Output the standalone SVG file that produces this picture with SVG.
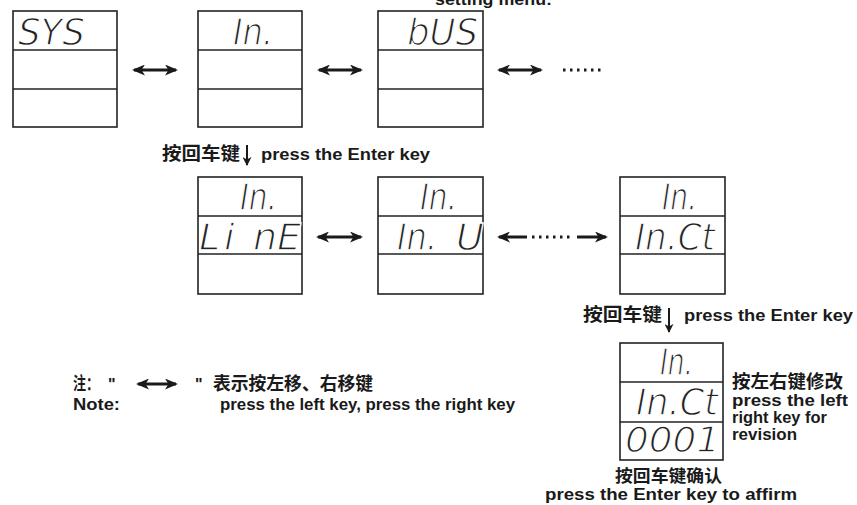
<svg xmlns="http://www.w3.org/2000/svg" width="857" height="505" viewBox="0 0 857 505">
<style>
.box{fill:#fff;stroke:#222;stroke-width:1.6}
.div{stroke:#222;stroke-width:1.4}
.seg{font-family:"DejaVu Sans","Liberation Sans",sans-serif;font-style:italic;font-size:38px;fill:#222;stroke:#fff;stroke-width:1.3px}
.lbl{font-family:"Liberation Sans","Noto Sans CJK SC",sans-serif;font-weight:bold;font-size:16px;fill:#1a1a1a}
.cjk{font-family:"Noto Sans CJK SC",sans-serif;font-weight:bold;font-size:18px;fill:#1a1a1a}
.arr{stroke:#1a1a1a;stroke-width:3;fill:none}
.thin{stroke:#1a1a1a;stroke-width:2;fill:none}
.dots{stroke:#1a1a1a;stroke-width:3;stroke-dasharray:2.5 4.5;fill:none}
</style>
<defs>
<marker id="ah" viewBox="0 0 13 11" refX="11" refY="5.5" markerWidth="13" markerHeight="11" markerUnits="userSpaceOnUse" orient="auto-start-reverse">
<path d="M0,0 L13,5.5 L0,11 L3.5,5.5 Z" fill="#1a1a1a"/>
</marker>
<marker id="dh" viewBox="0 0 10 10" refX="9" refY="5" markerWidth="9" markerHeight="9" markerUnits="userSpaceOnUse" orient="auto">
<path d="M0,0 L10,5 L0,10 L3,5 Z" fill="#1a1a1a"/>
</marker>
</defs>

<text class="lbl" x="435" y="5" textLength="117" lengthAdjust="spacingAndGlyphs">setting menu:</text>

<g id="n-sys">
<rect class="box" x="13" y="11" width="104" height="116"/>
<line class="div" x1="13" y1="50" x2="117" y2="50"/>
<line class="div" x1="13" y1="89" x2="117" y2="89"/>
<text class="seg" x="18" y="45" textLength="67" lengthAdjust="spacingAndGlyphs">SYS</text>
</g>
<g id="n-in">
<rect class="box" x="198" y="11" width="104" height="116"/>
<line class="div" x1="198" y1="50" x2="302" y2="50"/>
<line class="div" x1="198" y1="89" x2="302" y2="89"/>
<text class="seg" x="233" y="45" textLength="40" lengthAdjust="spacingAndGlyphs">In.</text>
</g>
<g id="n-bus">
<rect class="box" x="378" y="11" width="105" height="116"/>
<line class="div" x1="378" y1="50" x2="483" y2="50"/>
<line class="div" x1="378" y1="89" x2="483" y2="89"/>
<text class="seg" x="407" y="45" textLength="71" lengthAdjust="spacingAndGlyphs">bUS</text>
</g>

<g id="n-line">
<rect class="box" x="198" y="177" width="104" height="117"/>
<line class="div" x1="198" y1="216" x2="302" y2="216"/>
<line class="div" x1="198" y1="254" x2="302" y2="254"/>
<text class="seg" x="240" y="210" textLength="37" lengthAdjust="spacingAndGlyphs">In.</text>
<text class="seg" x="199 224 253 277" y="250">LinE</text>
</g>
<g id="n-inu">
<rect class="box" x="378" y="177" width="105" height="117"/>
<line class="div" x1="378" y1="216" x2="483" y2="216"/>
<line class="div" x1="378" y1="254" x2="483" y2="254"/>
<text class="seg" x="420" y="210" textLength="37" lengthAdjust="spacingAndGlyphs">In.</text>
<text class="seg" x="397" y="250" textLength="40" lengthAdjust="spacingAndGlyphs">In.</text>
<text class="seg" x="456" y="250">U</text>
</g>
<g id="n-inct">
<rect class="box" x="620" y="177" width="105" height="117"/>
<line class="div" x1="620" y1="216" x2="725" y2="216"/>
<line class="div" x1="620" y1="254" x2="725" y2="254"/>
<text class="seg" x="662" y="210" textLength="35" lengthAdjust="spacingAndGlyphs">In.</text>
<text class="seg" x="635" y="250" textLength="80" lengthAdjust="spacingAndGlyphs">In.Ct</text>
</g>
<g id="n-value">
<rect class="box" x="620" y="343" width="103" height="117"/>
<line class="div" x1="620" y1="382" x2="723" y2="382"/>
<line class="div" x1="620" y1="422" x2="723" y2="422"/>
<text class="seg" x="660" y="375" textLength="33" lengthAdjust="spacingAndGlyphs">In.</text>
<text class="seg" x="636" y="415" textLength="82" lengthAdjust="spacingAndGlyphs">In.Ct</text>
<text class="seg" x="625" y="452" textLength="95" lengthAdjust="spacingAndGlyphs" style="font-size:36px">0001</text>
</g>

<g id="connectors">
<line class="arr" x1="134" y1="70" x2="176" y2="70" marker-start="url(#ah)" marker-end="url(#ah)"/>
<line class="arr" x1="319" y1="70" x2="361" y2="70" marker-start="url(#ah)" marker-end="url(#ah)"/>
<line class="arr" x1="499" y1="70" x2="541" y2="70" marker-start="url(#ah)" marker-end="url(#ah)"/>
<line class="dots" x1="563" y1="70" x2="604" y2="70"/>
<line class="arr" x1="318" y1="237" x2="361" y2="237" marker-start="url(#ah)" marker-end="url(#ah)"/>
<line class="arr" x1="499" y1="237" x2="527" y2="237" marker-start="url(#ah)"/>
<line class="dots" x1="532" y1="237" x2="573" y2="237"/>
<line class="arr" x1="577" y1="237" x2="606" y2="237" marker-end="url(#ah)"/>
<line class="thin" x1="247" y1="145" x2="247" y2="165" marker-end="url(#dh)"/>
<line class="thin" x1="669" y1="308" x2="669" y2="332" marker-end="url(#dh)"/>
<line class="arr" x1="138" y1="384" x2="176" y2="384" marker-start="url(#ah)" marker-end="url(#ah)"/>
</g>

<text class="cjk" x="162" y="160" textLength="78" lengthAdjust="spacingAndGlyphs">按回车键</text>
<text class="lbl" x="261" y="160" textLength="169" lengthAdjust="spacingAndGlyphs">press the  Enter key</text>
<text class="cjk" x="583" y="321" textLength="79" lengthAdjust="spacingAndGlyphs">按回车键</text>
<text class="lbl" x="684" y="321" textLength="169" lengthAdjust="spacingAndGlyphs">press the  Enter key</text>

<text class="cjk" x="732" y="388" textLength="111" lengthAdjust="spacingAndGlyphs">按左右键修改</text>
<text class="lbl" x="732" y="406" textLength="116" lengthAdjust="spacingAndGlyphs">press the  left</text>
<text class="lbl" x="732" y="423" textLength="95" lengthAdjust="spacingAndGlyphs">right key for</text>
<text class="lbl" x="732" y="440" textLength="65" lengthAdjust="spacingAndGlyphs">revision</text>

<text class="cjk" x="615" y="482" textLength="107" lengthAdjust="spacingAndGlyphs" style="font-size:17px">按回车键确认</text>
<text class="lbl" x="545" y="500" textLength="252" lengthAdjust="spacingAndGlyphs">press the  Enter key  to affirm</text>

<text class="cjk" x="73" y="390" textLength="26" lengthAdjust="spacingAndGlyphs">注：</text>
<text class="lbl" x="108" y="390">"</text>
<text class="lbl" x="195" y="390">"</text>
<text class="cjk" x="213" y="390" textLength="160" lengthAdjust="spacingAndGlyphs">表示按左移、右移键</text>
<text class="lbl" x="73" y="410" textLength="47" lengthAdjust="spacingAndGlyphs">Note:</text>
<text class="lbl" x="220" y="410" textLength="295" lengthAdjust="spacingAndGlyphs">press the left key, press the right key</text>
</svg>
